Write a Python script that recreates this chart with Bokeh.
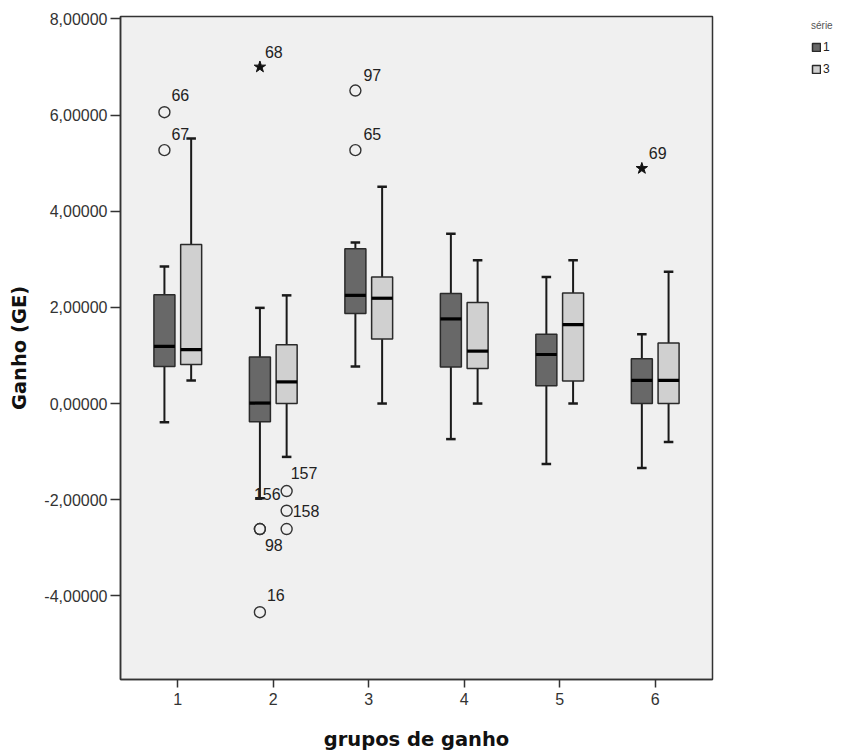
from bokeh.plotting import figure
from bokeh.models import ColumnDataSource, FixedTicker, Range1d, Legend, LegendItem
from bokeh.core.properties import value
from bokeh.embed import file_html
from bokeh.resources import INLINE

# ---------------- data ----------------
groups = [1, 2, 3, 4, 5, 6]
series_names = ["1", "3"]

# série 1 (dark boxes)
s1_lower = [-0.39, -1.97, 0.77, -0.74, -1.26, -1.34]
s1_q1 = [0.77, -0.38, 1.87, 0.76, 0.37, 0.00]
s1_median = [1.19, 0.01, 2.25, 1.76, 1.02, 0.48]
s1_q3 = [2.26, 0.97, 3.22, 2.29, 1.44, 0.93]
s1_upper = [2.85, 1.99, 3.35, 3.53, 2.63, 1.44]

# série 3 (light boxes)
s3_lower = [0.48, -1.11, 0.00, 0.00, 0.00, -0.80]
s3_q1 = [0.81, 0.00, 1.34, 0.73, 0.47, 0.00]
s3_median = [1.12, 0.45, 2.19, 1.09, 1.64, 0.48]
s3_q3 = [3.31, 1.22, 2.63, 2.10, 2.30, 1.26]
s3_upper = [5.51, 2.25, 4.51, 2.98, 2.98, 2.74]

# outliers
out_group = [1, 1, 2, 2, 2, 2, 2, 2, 2, 3, 3, 6]
out_series = ["1", "1", "1", "1", "1", "1", "3", "3", "3", "1", "1", "1"]
out_value = [6.06, 5.27, 7.00, -2.61, -2.61, -4.34, -1.82, -2.23, -2.61, 6.51, 5.27, 4.89]
out_label = ["66", "67", "68", "98", "156", "16", "157", "158", "", "97", "65", "69"]
out_extreme = [False, False, True, False, False, False, False, False, False, False, False, True]

y_ticks = [-4, -2, 0, 2, 4, 6, 8]
y_tick_labels = ["-4,00000", "-2,00000", "0,00000", "2,00000", "4,00000", "6,00000", "8,00000"]

x_title = "grupos de ganho"
y_title = "Ganho (GE)"
legend_title = "série"

# ---------------- style ----------------
series_offset = {"1": -0.14, "3": 0.14}
series_fill = {"1": "#686868", "3": "#d0d0d0"}
box_w = 0.22
cap_w = 0.1
# label offsets in screen px (dx, dy)
label_dx = [7, 7, 5, 5, -6, 7, 4, 6, 0, 8, 8, 7]
label_dy = [-17, -16, -15, 16, -35, -17, -18, 0, 0, -16, -16, -15]

series_data = {
    "1": (s1_lower, s1_q1, s1_median, s1_q3, s1_upper),
    "3": (s3_lower, s3_q1, s3_median, s3_q3, s3_upper),
}

p = figure(
    frame_width=592, frame_height=663,
    min_border_left=120, min_border_right=131, min_border_top=16, min_border_bottom=74,
    x_range=Range1d(0.4, 6.6), y_range=Range1d(-5.74, 8.05),
    output_backend="svg", toolbar_location=None,
)
p.background_fill_color = "#f0f0f0"
p.border_fill_color = "white"
p.outline_line_color = "#333333"
p.outline_line_width = 1.5
p.xgrid.visible = False
p.ygrid.visible = False

box_renderers = {}
for s in series_names:
    lo, q1, med, q3, up = series_data[s]
    xs = [g + series_offset[s] for g in groups]
    src = ColumnDataSource(dict(
        x=xs, xl=[x - cap_w / 2 for x in xs], xr=[x + cap_w / 2 for x in xs],
        bl=[x - box_w / 2 for x in xs], br=[x + box_w / 2 for x in xs],
        lo=lo, q1=q1, med=med, q3=q3, up=up,
    ))
    p.segment(x0="x", y0="q3", x1="x", y1="up", source=src, line_color="#1a1a1a", line_width=2)
    p.segment(x0="x", y0="q1", x1="x", y1="lo", source=src, line_color="#1a1a1a", line_width=2)
    p.segment(x0="xl", y0="up", x1="xr", y1="up", source=src, line_color="#1a1a1a", line_width=2.5)
    p.segment(x0="xl", y0="lo", x1="xr", y1="lo", source=src, line_color="#1a1a1a", line_width=2.5)
    r = p.vbar(x="x", width=box_w, bottom="q1", top="q3", source=src,
               fill_color=series_fill[s], line_color="#2a2a2a", line_width=1.5)
    box_renderers[s] = r
    p.segment(x0="bl", y0="med", x1="br", y1="med", source=src, line_color="black", line_width=3.2)

ox = [g + series_offset[s] for g, s in zip(out_group, out_series)]
circ = ColumnDataSource(dict(
    x=[x for x, e in zip(ox, out_extreme) if not e],
    y=[v for v, e in zip(out_value, out_extreme) if not e],
))
star = ColumnDataSource(dict(
    x=[x for x, e in zip(ox, out_extreme) if e],
    y=[v for v, e in zip(out_value, out_extreme) if e],
))
p.scatter(x="x", y="y", source=circ, marker="circle", size=11,
          fill_color=None, line_color="#333333", line_width=1.4)
p.scatter(x="x", y="y", source=star, marker="star", size=12,
          fill_color="#111111", line_color="#111111")

lbl = ColumnDataSource(dict(x=ox, y=out_value, text=out_label, dx=label_dx, dy=label_dy))
p.text(x="x", y="y", text="text", x_offset="dx", y_offset="dy", source=lbl,
       text_font=value("Liberation Sans"), text_font_size="16px",
       text_align="left", text_baseline="middle", text_color="#222222")

# axes
p.xaxis.ticker = FixedTicker(ticks=groups)
p.yaxis.ticker = FixedTicker(ticks=y_ticks)
p.yaxis.major_label_overrides = dict(zip(y_ticks, y_tick_labels))
for ax in (p.xaxis[0], p.yaxis[0]):
    ax.axis_line_color = "#333333"
    ax.axis_line_width = 1.5
    ax.major_tick_line_color = "#333333"
    ax.major_tick_line_width = 1.5
    ax.major_tick_in = 0
    ax.minor_tick_line_color = None
    ax.major_label_text_font = "Liberation Sans"
    ax.major_label_text_font_size = "16px"
    ax.major_label_text_color = "#333333"
    ax.axis_label_text_font = "DejaVu Sans"
    ax.axis_label_text_font_style = "bold"
    ax.axis_label_text_font_size = "19.5px"
    ax.axis_label_text_color = "#111111"
p.xaxis.major_tick_out = 8
p.yaxis.major_tick_out = 10
p.xaxis.major_label_standoff = 5
p.yaxis.major_label_standoff = 3
p.xaxis.axis_label = x_title
p.yaxis.axis_label = y_title
p.xaxis.axis_label_standoff = 20
p.yaxis.axis_label_standoff = 10

legend = Legend(
    items=[LegendItem(label=s, renderers=[box_renderers[s]]) for s in series_names],
    location=(99, 603), margin=0, padding=0,
    title=legend_title, title_text_font_size="10px", title_text_color="#555555",
    title_text_font="Liberation Sans", title_text_font_style="normal", title_standoff=9,
    label_text_font="Liberation Sans", label_text_font_size="12px", label_text_color="#222222",
    glyph_width=10, glyph_height=10, label_height=12, label_standoff=2, spacing=8,
    border_line_color=None, background_fill_alpha=0,
)
p.add_layout(legend, "right")

open("out.html", "w").write(file_html(p, INLINE))
